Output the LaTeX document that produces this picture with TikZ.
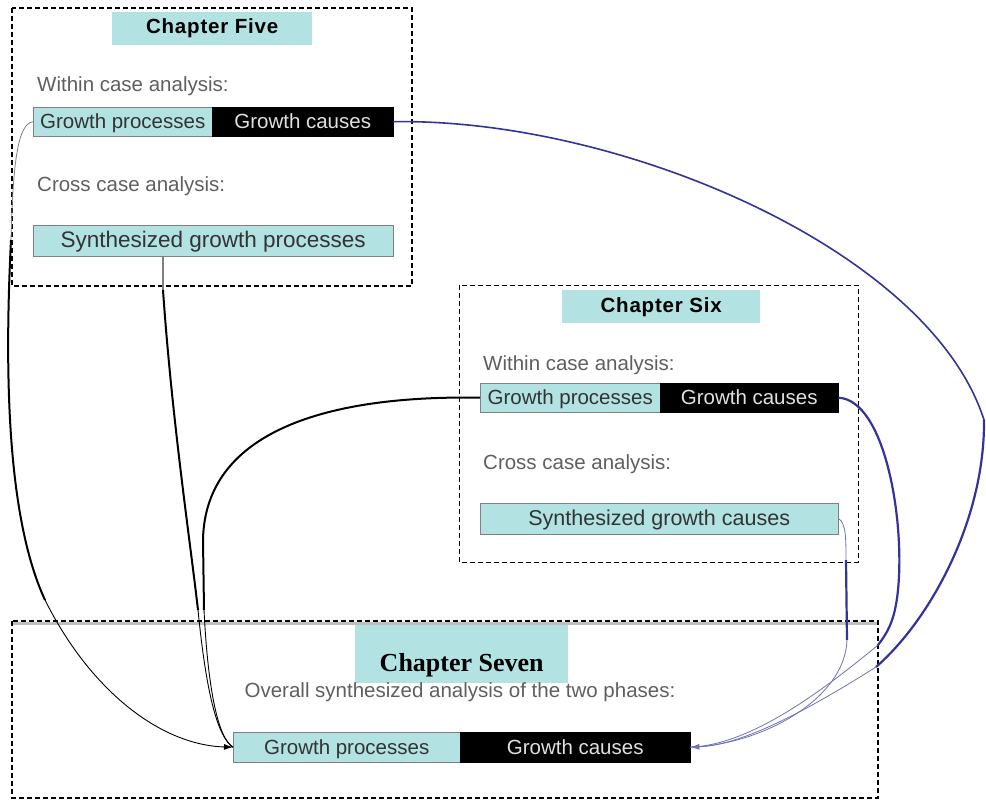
\documentclass[tikz,border=0pt]{standalone}
\usepackage{fontspec}
\setmainfont{Liberation Sans}
\newfontfamily\titleserif{Liberation Serif}
\newfontfamily\titlesans[LetterSpace=4]{Liberation Sans}
\usetikzlibrary{arrows.meta}
\definecolor{cellcyan}{RGB}{178,226,226}
\definecolor{linkblue}{RGB}{51,51,153}
\definecolor{labelgray}{RGB}{95,95,95}
\tikzset{
  chapterframe/.style={draw=black, dashed, line width=1.1pt, dash pattern=on 5pt off 3pt},
  titlebox/.style={fill=cellcyan, inner sep=0pt, anchor=north west, font=\titlesans\bfseries\fontsize{20.5}{24}\selectfont},
  cellbox/.style={inner sep=0pt, anchor=north west, minimum height=29pt, text height=16pt, text depth=2pt, font=\fontsize{20.5}{24}\selectfont},
  proccell/.style={cellbox, fill=cellcyan, draw=gray, text=black!80},
  causecell/.style={cellbox, fill=black, draw=black, text=white!88!black},
  lbl/.style={anchor=west, inner sep=0pt, text=labelgray, font=\fontsize{20.5}{24}\selectfont},
  greylink/.style={draw=gray, line width=0.8pt},
  blacklink/.style={draw=black, line width=2pt},
  endlink/.style={draw=black, line width=0.9pt},
  bluelink/.style={draw=linkblue, line width=2.2pt},
  bluethin/.style={draw=linkblue!70, line width=0.8pt},
  tip/.style={-{Latex[length=9pt,width=6pt]}}
}
\begin{document}
\begin{tikzpicture}[x=1pt, y=-1pt]
\useasboundingbox (0,0) rectangle (986,800);

% ---- Chapter Five ----
\draw[chapterframe] (12,8) rectangle (412,286);
\node[titlebox, minimum width=200pt, minimum height=33pt] (t5) at (112,12) {Chapter Five};
\node[lbl] (w5) at (37,86) {Within case analysis:};
\node[proccell, minimum width=179pt] (c5gp) at (33,107) {Growth processes};
\node[causecell, minimum width=181pt] (c5gc) at (212,107) {Growth causes};
\node[lbl] (x5) at (37,186) {Cross case analysis:};
\node[proccell, minimum width=360pt, minimum height=31pt, font=\fontsize{22.5}{26}\selectfont] (s5) at (33,225) {Synthesized growth processes};

% ---- Chapter Six ----
\draw[chapterframe, line width=0.9pt] (459,285) rectangle (858,562);
\node[titlebox, minimum width=198pt, minimum height=33pt] (t6) at (562,290) {Chapter Six};
\node[lbl] (w6) at (483,365) {Within case analysis:};
\node[proccell, minimum width=180pt] (c6gp) at (480,383) {Growth processes};
\node[causecell, minimum width=178pt] (c6gc) at (660,383) {Growth causes};
\node[lbl] (x6) at (483,464) {Cross case analysis:};
\node[proccell, minimum width=358pt, minimum height=31pt, font=\fontsize{21.5}{26}\selectfont] (s6) at (480,503) {Synthesized growth causes};

% ---- Chapter Seven ----
\draw[gray!50, line width=3pt] (12,623) -- (878,623);
\draw[chapterframe] (12,621) rectangle (878,798);
\node[titlebox, minimum width=213pt, minimum height=58pt, text height=34pt, text depth=0pt, font=\titleserif\bfseries\fontsize{26}{30}\selectfont] (t7) at (355,625) {Chapter Seven};
\node[lbl, anchor=center] (o7) at (460,692) {Overall synthesized analysis of the two phases:};
\node[proccell, minimum width=227pt, minimum height=30pt] (c7gp) at (233,732) {Growth processes};
\node[causecell, minimum width=230pt, minimum height=30pt] (c7gc) at (460,732) {Growth causes};

% ---- links into Chapter Seven growth processes ----
\coordinate (la) at (11,240);
\coordinate (lb) at (45,600);
\draw[greylink] (c5gp.west) .. controls (18,124) and (13,160) .. (la);
\draw[blacklink] (la) .. controls (4,380) and (8,520) .. (lb);
\draw[endlink, tip] (lb) .. controls (90,690) and (160,745) .. (c7gp.west);

\coordinate (sfoot) at ([xshift=130pt]s5.south west);
\coordinate (ma) at (163,290);
\coordinate (mb) at (198,610);
\draw[greylink, line width=1.4pt] (sfoot) -- (ma);
\draw[blacklink] (ma) .. controls (172,420) and (190,540) .. (mb);
\draw[endlink] (mb) .. controls (205,680) and (215,735) .. (c7gp.west);

\coordinate (na) at (204,610);
\draw[blacklink] (c6gp.west) .. controls (330,395) and (205,430) .. (203,540) -- (na);
\draw[endlink] (na) .. controls (208,690) and (218,738) .. (c7gp.west);

% ---- links into Chapter Seven growth causes ----
\coordinate (ba) at (984,420);
\coordinate (bb) at (876,667);
\draw[bluelink, line width=1.6pt] (c5gc.east) .. controls (620,118) and (930,250) .. (ba);
\draw[bluelink] (ba) .. controls (985,520) and (930,620) .. (bb);
\draw[bluethin, tip] (bb) .. controls (800,715) and (740,745) .. (c7gc.east);

\coordinate (ca) at (878,645);
\draw[bluelink] (c6gc.east) .. controls (885,400) and (905,520) .. (898,590) .. controls (895,620) and (888,632) .. (ca);
\draw[bluethin] (ca) .. controls (800,710) and (740,745) .. (c7gc.east);

\coordinate (da) at (847,640);
\draw[bluethin] (s6.east) .. controls (846,522) and (846,540) .. (846,560);
\draw[bluelink] (846,560) -- (da);
\draw[bluethin] (da) .. controls (845,700) and (760,745) .. (c7gc.east);
\end{tikzpicture}
\end{document}
